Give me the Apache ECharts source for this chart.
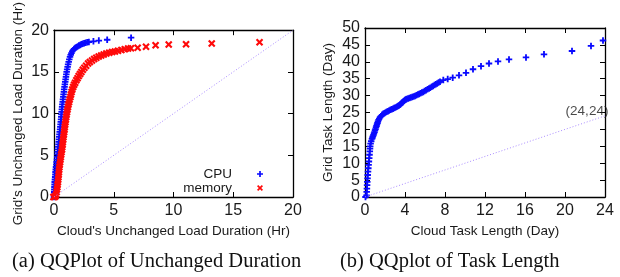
<!DOCTYPE html>
<html>
<head>
<meta charset="utf-8">
<script src="https://cdn.jsdelivr.net/npm/echarts@6/dist/echarts.min.js"></script>
<style>
  html, body { margin: 0; padding: 0; background: #fff; }
  #main { width: 620px; height: 277px; }
</style>
</head>
<body>
<div id="main"></div>
<script>
// (a) unchanged load duration QQ points, [cloud hr, grid hr]
const cpuPoints = [
  [0, 0], [0.01, 0.3], [0.02, 0.6], [0.03, 0.9], [0.04, 1.2], [0.05, 1.5], [0.06, 1.8], [0.08, 2.1],
  [0.1, 2.4], [0.12, 2.7], [0.13, 3.0], [0.15, 3.3], [0.17, 3.6], [0.2, 3.9], [0.22, 4.2], [0.25, 4.5],
  [0.27, 4.8], [0.29, 5.1], [0.31, 5.4], [0.33, 5.7], [0.36, 6.0], [0.38, 6.3], [0.4, 6.6], [0.42, 6.9],
  [0.44, 7.2], [0.46, 7.5], [0.48, 7.8], [0.51, 8.1], [0.53, 8.4], [0.55, 8.7], [0.57, 9.0], [0.59, 9.3],
  [0.61, 9.6], [0.62, 9.9], [0.64, 10.2], [0.66, 10.5], [0.68, 10.8], [0.7, 11.1], [0.73, 11.4],
  [0.75, 11.7], [0.78, 12.0], [0.8, 12.3], [0.83, 12.6], [0.85, 12.9], [0.88, 13.2], [0.91, 13.5],
  [0.94, 13.8], [0.97, 14.1], [1.0, 14.4], [1.03, 14.7], [1.06, 15.0], [1.1, 15.3], [1.14, 15.6],
  [1.18, 15.9], [1.23, 16.2], [1.28, 16.5], [1.34, 16.8], [1.4, 17.05], [1.46, 17.25], [1.53, 17.45],
  [1.6, 17.6], [1.68, 17.75], [1.77, 17.85], [1.87, 17.95], [1.97, 18.05], [2.08, 18.15], [2.19, 18.22],
  [2.29, 18.3], [2.4, 18.36], [2.52, 18.42], [2.65, 18.48], [2.78, 18.54], [2.92, 18.58], [3.3, 18.66],
  [3.75, 18.75], [4.45, 18.85], [6.45, 19.1]
];
const memoryPoints = [
  [-0.05, 0], [0.05, 0], [0.12, 0.1], [0.18, 0.3], [0.22, 0.6], [0.25, 0.9], [0.28, 1.2], [0.3, 1.5],
  [0.33, 1.8], [0.35, 2.1], [0.37, 2.4], [0.39, 2.7], [0.41, 3.0], [0.43, 3.3], [0.45, 3.6], [0.48, 3.9],
  [0.51, 4.2], [0.54, 4.5], [0.57, 4.8], [0.6, 5.1], [0.63, 5.4], [0.67, 5.7], [0.69, 6.0], [0.72, 6.3],
  [0.74, 6.6], [0.77, 6.9], [0.79, 7.2], [0.82, 7.5], [0.85, 7.8], [0.88, 8.1], [0.9, 8.4], [0.93, 8.7],
  [0.96, 9.0], [0.99, 9.3], [1.02, 9.6], [1.05, 9.9], [1.09, 10.2], [1.13, 10.5], [1.17, 10.8],
  [1.21, 11.1], [1.26, 11.4], [1.31, 11.7], [1.37, 12.0], [1.42, 12.3], [1.47, 12.6], [1.53, 12.9],
  [1.6, 13.2], [1.68, 13.45], [1.77, 13.7], [1.87, 14.0], [1.97, 14.25], [2.07, 14.5], [2.18, 14.75],
  [2.29, 15.0], [2.41, 15.25], [2.54, 15.5], [2.69, 15.75], [2.85, 16.0], [3.0, 16.2], [3.18, 16.38],
  [3.36, 16.55], [3.54, 16.7], [3.74, 16.84], [3.95, 16.97], [4.16, 17.09], [4.38, 17.2], [4.62, 17.3],
  [4.86, 17.38], [5.1, 17.45], [5.36, 17.52], [5.64, 17.62], [5.92, 17.72], [6.2, 17.8], [6.44, 17.84],
  [7.0, 17.9], [7.7, 18.0], [8.5, 18.2], [9.6, 18.27], [11.05, 18.3], [13.2, 18.4], [17.2, 18.55]
];
// (b) task length QQ points, [cloud day, grid day]
const taskPoints = [
  [0.05, 0], [0.15, 0.5], [0.17, 1.5], [0.19, 2.5], [0.21, 3.5], [0.23, 4.5], [0.25, 5.5],
  [0.27, 6.5], [0.3, 7.5], [0.33, 8.5], [0.36, 9.5], [0.39, 10.5], [0.42, 11.5], [0.45, 12.5],
  [0.48, 13.5], [0.5, 14.3], [0.52, 15.0], [0.56, 15.8], [0.62, 16.5], [0.7, 17.2], [0.75, 17.6],
  [0.8, 18.0], [0.85, 18.4], [0.9, 18.8], [0.95, 19.2], [1.0, 19.7], [1.05, 20.1], [1.1, 20.6],
  [1.15, 21.0], [1.2, 21.5], [1.25, 21.9], [1.3, 22.4], [1.36, 22.8], [1.43, 23.2], [1.51, 23.6],
  [1.6, 23.9], [1.71, 24.3], [1.83, 24.6], [1.94, 24.8], [2.05, 25.0], [2.17, 25.2], [2.3, 25.4],
  [2.42, 25.6], [2.55, 25.8], [2.68, 25.95], [2.8, 26.1], [2.92, 26.3], [3.05, 26.5], [3.18, 26.7],
  [3.3, 26.9], [3.4, 27.1], [3.5, 27.3], [3.58, 27.55], [3.67, 27.8], [3.76, 28.05], [3.85, 28.3],
  [3.92, 28.5], [4.0, 28.7], [4.08, 28.85], [4.17, 29.0], [4.31, 29.15], [4.45, 29.3], [4.58, 29.45],
  [4.72, 29.6], [4.86, 29.75], [5.0, 29.9], [5.14, 30.1], [5.28, 30.3], [5.41, 30.5], [5.55, 30.7],
  [5.69, 30.9], [5.83, 31.1], [5.96, 31.35], [6.1, 31.6], [6.25, 31.85], [6.4, 32.1], [6.53, 32.35],
  [6.67, 32.6], [6.81, 32.85], [6.95, 33.1], [7.08, 33.35], [7.22, 33.6], [7.36, 33.85], [7.5, 34.1],
  [7.83, 34.6], [8.27, 34.9], [8.77, 35.3], [9.4, 36.0], [10.1, 36.75], [10.8, 37.8], [11.6, 38.7],
  [12.4, 39.5], [13.3, 40.1], [14.4, 40.7], [16.1, 41.3], [17.9, 42.2], [20.7, 43.2], [22.6, 44.7],
  [23.8, 46.3]
];
const diagA = [[0, 0], [20, 20]];
const diagB = [[0, 0], [24, 24]];
const ticksA = { min: 0, max: 20, interval: 5 };
const ticksBx = { min: 0, max: 24, interval: 4 };
const ticksBy = { min: 0, max: 50, interval: 5 };
const captions = ['(a) QQPlot of Unchanged Duration', '(b) QQplot of Task Length'];

// gnuplot-like point markers, drawn as filled outlines
const plusIcon = 'path://M3.6,0H6.4V3.6H10V6.4H6.4V10H3.6V6.4H0V3.6H3.6Z';
const crossIcon = 'path://M0,2L2,0L5,3L8,0L10,2L7,5L10,8L8,10L5,7L2,10L0,8L3,5Z';
const font = 'Liberation Sans';
const dark = '#1a1a1a';

function axis(grid, pos, range, opts) {
  return Object.assign({
    type: 'value', gridIndex: grid, position: pos,
    min: range.min, max: range.max, interval: range.interval,
    splitLine: { show: false },
    axisLine: { show: true, onZero: false, lineStyle: { color: '#000', width: 1.3 } },
    axisTick: { show: true, inside: true, length: 5, lineStyle: { color: '#000', width: 1 } },
    axisLabel: { show: false }
  }, opts || {});
}
function labels(margin) {
  return { show: true, margin: margin, color: dark, fontSize: 16, fontFamily: font };
}
function nameStyle() {
  return { color: dark, fontSize: 13.5, fontFamily: font };
}

var myChart = echarts.init(document.getElementById('main'));

var option = {
  animation: false,
  backgroundColor: '#fff',
  grid: [
    { left: 54, top: 28, width: 239, height: 169 },
    { left: 365, top: 28, width: 240, height: 169 }
  ],
  xAxis: [
    axis(0, 'bottom', ticksA, {
      axisLabel: labels(6),
      name: "Cloud's Unchanged Load Duration (Hr)", nameLocation: 'middle', nameGap: 27,
      nameTextStyle: nameStyle()
    }),
    axis(0, 'top', ticksA),
    axis(1, 'bottom', ticksBx, {
      axisLabel: labels(6),
      name: 'Cloud Task Length (Day)', nameLocation: 'middle', nameGap: 27,
      nameTextStyle: nameStyle()
    }),
    axis(1, 'top', ticksBx)
  ],
  yAxis: [
    axis(0, 'left', ticksA, {
      axisLabel: labels(5),
      name: "Grid's Unchanged Load Duration (Hr)", nameLocation: 'middle', nameGap: 29,
      nameTextStyle: nameStyle()
    }),
    axis(0, 'right', ticksA),
    axis(1, 'left', ticksBy, {
      axisLabel: labels(5),
      name: 'Grid Task Length (Day)', nameLocation: 'middle', nameGap: 30,
      nameTextStyle: nameStyle()
    }),
    axis(1, 'right', ticksBy)
  ],
  legend: {
    orient: 'vertical',
    align: 'right',
    right: 352,
    top: 162,
    itemGap: 0,
    itemWidth: 6,
    itemHeight: 6,
    textStyle: { color: dark, fontSize: 13.5, fontFamily: font, padding: [0, 20, 0, 0] },
    data: [
      { name: 'CPU', icon: plusIcon },
      { name: 'memory', icon: crossIcon }
    ]
  },
  series: [
    {
      type: 'line', xAxisIndex: 0, yAxisIndex: 0, data: diagA,
      symbol: 'none', silent: true,
      lineStyle: { color: '#a98bff', width: 1, type: [1, 2] }
    },
    {
      type: 'line', xAxisIndex: 2, yAxisIndex: 2, data: diagB,
      symbol: 'none', silent: true,
      lineStyle: { color: '#a98bff', width: 1, type: [1, 2] }
    },
    {
      name: 'CPU', type: 'scatter', xAxisIndex: 0, yAxisIndex: 0, data: cpuPoints,
      symbol: plusIcon, symbolSize: 6.5, clip: false,
      itemStyle: { color: '#0a0aff', opacity: 1 }
    },
    {
      name: 'memory', type: 'scatter', xAxisIndex: 0, yAxisIndex: 0, data: memoryPoints,
      symbol: crossIcon, symbolSize: 7.5, clip: false,
      itemStyle: { color: '#ff0a0a', opacity: 1 }
    },
    {
      name: 'task', type: 'scatter', xAxisIndex: 2, yAxisIndex: 2, data: taskPoints,
      symbol: plusIcon, symbolSize: 6.5, clip: false,
      itemStyle: { color: '#0a0aff', opacity: 1 }
    },
    {
      type: 'scatter', xAxisIndex: 2, yAxisIndex: 2, data: [diagB[1]],
      symbolSize: 0, itemStyle: { color: 'rgba(0,0,0,0)' }, silent: true,
      label: {
        show: true, position: 'top', distance: 0, offset: [-18, 2],
        formatter: '(24,24)', color: dark, fontSize: 13.5, fontFamily: font
      }
    }
  ],
  graphic: [
    {
      type: 'text', left: 12, top: 251,
      style: { text: captions[0], font: '20.5px "Liberation Serif"', fill: '#111' }
    },
    {
      type: 'text', left: 340, top: 251,
      style: { text: captions[1], font: '20.5px "Liberation Serif"', fill: '#111' }
    }
  ]
};

myChart.setOption(option);
</script>
</body>
</html>
